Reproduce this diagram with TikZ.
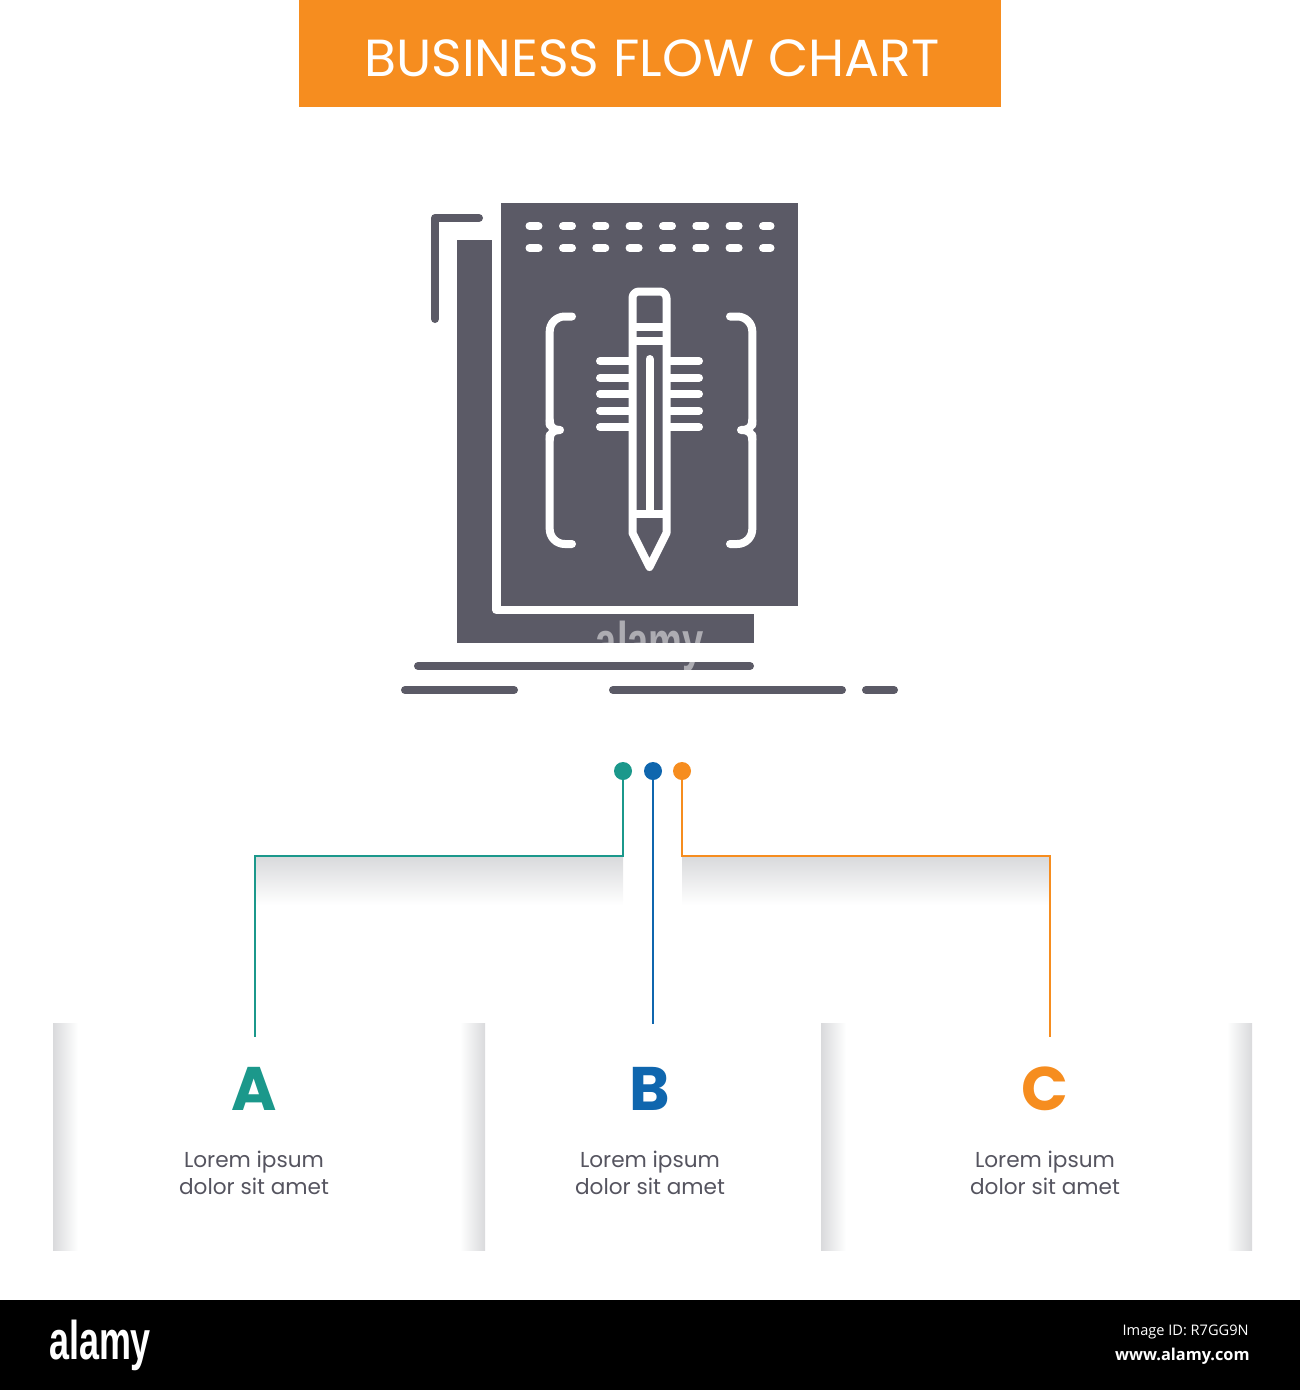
\documentclass[tikz,border=0pt]{standalone}
\usepackage{fontspec}
\setmainfont{Poppins}
\newfontfamily\footfont{Open Sans}
\newfontfamily\logofont{Liberation Sans}
\usepackage{tikz}
\usetikzlibrary{calc,positioning}
\definecolor{bannerorange}{HTML}{F68D1F}
\definecolor{iconslate}{HTML}{5B5A66}
\definecolor{textslate}{HTML}{55545F}
\definecolor{tealA}{HTML}{1B988B}
\definecolor{blueB}{HTML}{0F66AE}
\definecolor{orangeC}{HTML}{F68D1F}
\definecolor{fadegrey}{HTML}{D9DADC}

\begin{document}
\begin{tikzpicture}[
		x=0.02cm,y=-0.02cm,
		title/.style={text=white,font=\fontsize{29.7}{32}\selectfont,inner sep=0pt},
		dot/.style={circle,inner sep=0pt,minimum size=0.36cm},
		wire/.style={line width=0.045cm},
		letter/.style={font=\fontsize{35}{36}\selectfont\bfseries,inner sep=0pt},
		caption/.style={text=textslate,align=center,inner sep=0pt,font=\fontsize{12.3}{15.2}\selectfont},
		logotext/.style={inner sep=0pt,font=\logofont\fontsize{31}{32}\selectfont\bfseries},
		footline/.style={text=white,inner sep=0pt,anchor=east,font=\footfont\fontsize{8.3}{11}\selectfont},
		icondark/.style={fill=iconslate,draw=none},
		iconline/.style={draw=white,line width=0.16cm,line cap=round,line join=round},
		iconbar/.style={draw=iconslate,line width=0.16cm,line cap=round,line join=round}
		]
		\useasboundingbox (0,0) rectangle (1300,1390);
		
		% header
		\fill[bannerorange] (299,0) rectangle (1001,107);
		\node[title] (head) at (652,58) {BUSINESS FLOW CHART};
		
		% icon
		\fill[icondark] (457,240) rectangle (754,643);
		\draw[white,line width=0.172cm,line join=round] (496.5,235) -- (496.5,610) -- (760,610);
		\fill[icondark] (501,203) rectangle (798,606);
		\draw[iconbar] (479,218) -- (435,218) -- (435,319);
		\foreach \row in {226,248}{
			\foreach \col in {529.5,563,596.3,629.6,663,696.3,729.6}
				\draw[iconline] (\col,\row) -- (\col+9,\row);
			\draw[iconline] (763,\row) -- (770.5,\row);
		}
		% braces
		\draw[iconline,rounded corners=0.3cm] (572,316.5) -- (549.7,316.5) -- (549.7,425);
		\draw[iconline] (549.7,420) .. controls (549.7,427) and (553,430) .. (560,430)
			.. controls (553,430) and (549.7,433) .. (549.7,440);
		\draw[iconline,rounded corners=0.3cm] (549.7,435) -- (549.7,544) -- (572,544);
		\draw[iconline,rounded corners=0.3cm] (730,316.5) -- (752.3,316.5) -- (752.3,425);
		\draw[iconline] (752.3,420) .. controls (752.3,427) and (749,430) .. (741,430)
			.. controls (749,430) and (752.3,433) .. (752.3,440);
		\draw[iconline,rounded corners=0.3cm] (752.3,435) -- (752.3,544) -- (730,544);
		% bars behind the pencil
		\foreach \row in {361,377.7,394,410.7,427}{
			\draw[iconline] (600,\row) -- (699,\row);
		}
		% pencil
		\draw[iconline,fill=iconslate] (632.5,533) -- (632.5,298) to[out=90,in=180] (639,291.5) -- (660,291.5) to[out=0,in=90] (666.5,298) -- (666.5,533) -- (649.5,567) -- cycle;
		\draw[iconline,line cap=butt] (632.5,326.5) -- (666.5,326.5);
		\draw[iconline,line cap=butt] (632.5,341) -- (666.5,341);
		\draw[iconline,line cap=butt] (632.5,514) -- (666.5,514);
		\draw[iconline] (649.5,359) -- (649.5,514);
		% ground lines
		\draw[iconbar] (418,666) -- (750,666);
		\draw[iconbar] (405,690) -- (514,690);
		\draw[iconbar] (613,690) -- (842,690);
		\draw[iconbar] (866,690) -- (894,690);
		\node[logotext,text=white,text opacity=0.5] (mark) at (650,646) {\scalebox{0.7}[1]{alamy}};
		
		% shadows below the branch lines
		\shade[top color=fadegrey,bottom color=white] (255,857) rectangle (623,905);
		\shade[top color=fadegrey,bottom color=white] (682,857) rectangle (1050,905);
		
		% side strips of the columns
		\foreach \xa/\xb in {53/78,821/846}{
			\shade[left color=fadegrey,right color=white] (\xa,1023) rectangle (\xb,1250);
		}
		\foreach \xa/\xb in {460/485,1227/1252}{
			\shade[left color=white,right color=fadegrey] (\xa,1023) rectangle (\xb,1250);
		}
		
		% connectors
		\node[dot,fill=tealA] (dotA) at (623,771) {};
		\node[dot,fill=blueB] (dotB) at (653,771) {};
		\node[dot,fill=orangeC] (dotC) at (682,771) {};
		\coordinate (kneeA) at (623,856);
		\coordinate (kneeC) at (682,856);
		\coordinate (elbowA) at (255,856);
		\coordinate (elbowC) at (1050,856);
		\coordinate (endA) at (255,1037);
		\coordinate (endB) at (653,1024);
		\coordinate (endC) at (1050,1037);
		\draw[wire,tealA] (dotA) -- (kneeA) -- (elbowA) -- (endA);
		\draw[wire,blueB] (dotB) -- (endB);
		\draw[wire,orangeC] (dotC) -- (kneeC) -- (elbowC) -- (endC);
		
		% columns
		\node[letter,text=tealA] (A) at (254,1089) {A};
		\node[letter,text=blueB] (B) at (650,1089) {B};
		\node[letter,text=orangeC] (C) at (1045,1089) {C};
		\node[caption] (textA) at (254,1173) {Lorem ipsum\\dolor sit amet};
		\node[caption] (textB) at (650,1173) {Lorem ipsum\\dolor sit amet};
		\node[caption] (textC) at (1045,1173) {Lorem ipsum\\dolor sit amet};
		
		% footer
		\fill[black] (0,1300) rectangle (1300,1390);
		\node[logotext,text=white] (logo) at (100,1345) {\scalebox{0.66}[1]{alamy}};
		\node[footline] (imageid) at (1249,1332) {Image ID: R7GG9N};
		\node[footline,font=\footfont\fontsize{9.3}{11}\selectfont\bfseries] (site) at (1250,1356) {www.alamy.com};
	\end{tikzpicture}
\end{document}
